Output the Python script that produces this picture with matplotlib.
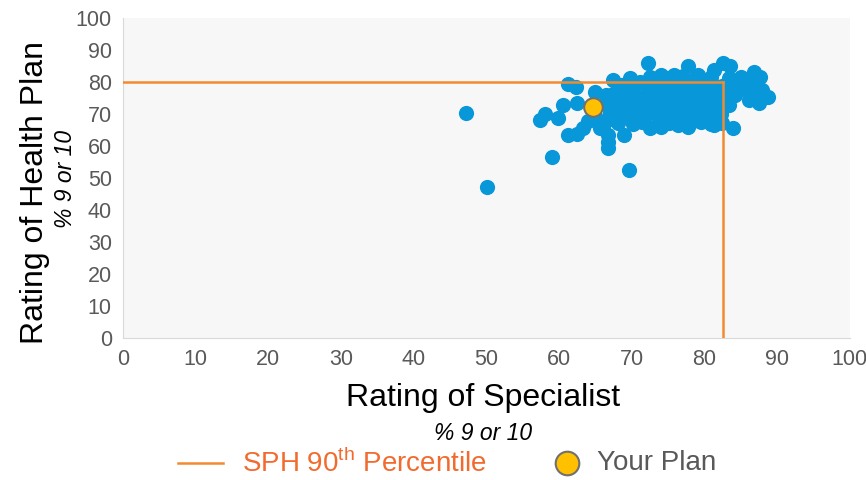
import matplotlib
matplotlib.use('Agg')
import matplotlib.pyplot as plt
from matplotlib.lines import Line2D

# --- data ---
# blue points: (Rating of Specialist, Rating of Health Plan)
spec_x = [
    47.2, 50.1, 59.1, 69.7, 57.4, 58.1, 59.9, 60.6, 62.5, 61.2, 62.3, 61.2,
    62.5, 63.3, 64.0, 65.0, 66.0, 66.8, 66.8, 66.7, 68.9, 65.0, 67.4, 69.8,
    71.2, 72.3, 74.0, 75.8, 77.7, 79.1, 80.4, 81.3, 82.6, 83.6, 86.8, 87.7,
    88.8, 87.5, 86.1, 85.4, 84.3, 83.9, 81.3, 77.8, 74.0, 72.6, 65.7, 66.3,
    66.5, 67.0, 66.6,
    # row ~67
    68.1, 70.2, 71.4, 73.6, 75.1, 76.4, 78.1, 79.6, 80.9, 82.4,
    # row ~70
    67.6, 69.0, 70.6, 72.1, 73.4, 75.0, 76.6, 77.9, 79.5, 81.1, 82.3,
    # row ~73
    67.1, 68.4, 70.1, 71.6, 73.0, 74.4, 76.1, 77.6, 78.9, 80.6, 82.0, 83.4,
    # row ~76
    67.4, 69.1, 70.4, 72.0, 73.6, 75.1, 76.4, 78.1, 79.4, 81.0, 82.6, 84.1,
    # row ~79
    68.6, 70.0, 72.1, 73.4, 75.1, 76.6, 77.9, 79.6, 81.1, 82.4, 84.0,
    # row ~81.5
    72.6, 75.0, 77.1, 78.9, 81.0, 83.4, 85.0,
    # right-hand group
    85.5, 86.5, 87.0, 88.0, 87.2, 86.8,
]
plan_y = [
    70.3, 47.2, 56.6, 52.5, 68.1, 70.0, 68.6, 72.8, 73.4, 79.4, 78.4, 63.4,
    63.8, 65.6, 67.8, 69.4, 65.9, 59.4, 61.3, 63.5, 63.4, 76.9, 80.6, 81.3,
    80.0, 85.9, 82.2, 82.2, 85.0, 82.2, 80.6, 83.8, 85.9, 85.0, 83.1, 81.6,
    75.3, 73.4, 74.4, 80.6, 75.9, 65.6, 66.6, 65.9, 65.9, 65.6, 65.6, 73.0,
    76.0, 70.2, 68.0,
    67.2, 66.8, 67.4, 66.9, 67.3, 66.6, 67.1, 67.5, 66.8, 67.2,
    70.1, 69.8, 70.4, 69.9, 70.3, 70.0, 69.7, 70.2, 70.4, 69.9, 70.1,
    73.2, 72.8, 73.1, 73.4, 72.9, 73.3, 72.7, 73.0, 73.4, 72.9, 73.2, 72.8,
    76.1, 75.8, 76.3, 75.9, 76.2, 75.7, 76.4, 75.9, 76.1, 76.3, 75.8, 76.0,
    79.0, 78.7, 79.2, 78.8, 79.1, 78.6, 79.3, 78.9, 79.2, 78.7, 79.0,
    81.6, 81.2, 81.8, 81.4, 81.7, 81.3, 81.5,
    78.0, 77.0, 79.5, 77.5, 75.5, 81.8,
]

# SPH 90th percentile thresholds
p90_spec = 82.6
p90_plan = 80.0

# your plan
your_x = [64.7]
your_y = [72.2]

x_ticks = list(range(0, 101, 10))
y_ticks = list(range(0, 101, 10))

# --- styling ---
plt.rcParams['font.family'] = ['Liberation Sans', 'DejaVu Sans']
plt.rcParams['mathtext.fontset'] = 'custom'
plt.rcParams['mathtext.rm'] = 'Liberation Sans'

BLUE = '#0898D9'
ORANGE = '#F28A30'
ORANGE_TXT = '#F26B2E'
GOLD = '#FFC000'
GREY = '#595959'

fig = plt.figure(figsize=(8.66, 4.8), dpi=100)
ax = fig.add_axes([0.142, 0.296, 0.839, 0.6665])
ax.set_facecolor('#F7F7F7')

ax.scatter(spec_x, plan_y, s=120, color=BLUE, linewidths=0, zorder=2)
ax.plot([0, p90_spec], [p90_plan, p90_plan], color=ORANGE, lw=1.8, zorder=3)
ax.plot([p90_spec, p90_spec], [0, p90_plan], color=ORANGE, lw=1.8, zorder=3)
ax.scatter(your_x, your_y, s=180, color=GOLD, edgecolors='#707070',
           linewidths=1.5, zorder=4)

ax.set_xlim(0, 100)
ax.set_ylim(0, 100)
ax.set_xticks(x_ticks)
ax.set_yticks(y_ticks)
ax.tick_params(length=0, labelsize=15.5, labelcolor=GREY, pad=8)
for side in ['top', 'right']:
    ax.spines[side].set_visible(False)
for side in ['left', 'bottom']:
    ax.spines[side].set_color('#D9D9D9')

# axis titles
fig.text(0.040, 0.600, 'Rating of Health Plan', rotation=90, fontsize=23,
         ha='center', va='center', color='black')
fig.text(0.076, 0.628, '% 9 or 10', rotation=90, fontsize=16.5, style='italic',
         ha='center', va='center', color='black')
fig.text(0.558, 0.170, 'Rating of Specialist', fontsize=23,
         ha='center', va='center', color='black')
fig.text(0.558, 0.097, '% 9 or 10', fontsize=16.5, style='italic',
         ha='center', va='center', color='black')

# legend drawn by hand
fig.add_artist(Line2D([0.206, 0.257], [0.035, 0.035], color=ORANGE, lw=1.8,
                      transform=fig.transFigure))
fig.text(0.280, 0.035, r'SPH 90$^{\mathrm{th}}$ Percentile', fontsize=20,
         ha='left', va='center', color=ORANGE_TXT)
fig.add_artist(Line2D([0.655], [0.035], marker='o', markersize=17,
                      markerfacecolor=GOLD, markeredgecolor='#707070',
                      markeredgewidth=1.5, transform=fig.transFigure))
fig.text(0.689, 0.035, 'Your Plan', fontsize=20, ha='left', va='center',
         color=GREY)

fig.savefig('out.png', dpi=100)
